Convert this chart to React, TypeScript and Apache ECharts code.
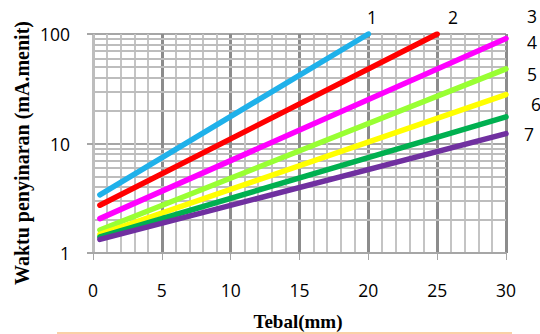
import React, { useEffect, useRef } from "react";
import * as echarts from "echarts";

const lineNames = ["1", "2", "3", "4", "5", "6", "7"];
const lineColors = ["#1fb1ea", "#ff0000", "#ff00ff", "#99ff33", "#ffff00", "#00b050", "#7030a0"];
const line1 = [[0.5, 3.4], [20, 100]];
const line2 = [[0.5, 2.73], [25, 100]];
const line3 = [[0.5, 2.06], [30, 91]];
const line4 = [[0.5, 1.62], [30, 48]];
const line5 = [[0.5, 1.48], [30, 28]];
const line6 = [[0.5, 1.4], [30, 17.5]];
const line7 = [[0.5, 1.33], [30, 12.3]];
const lineData = [line1, line2, line3, line4, line5, line6, line7];
const minorGridY = [2, 3, 4, 5, 6, 7, 8, 9, 20, 30, 40, 50, 60, 70, 80, 90];
const xTitle = "Tebal(mm)";
const yTitle = "Waktu penyinaran (mA.menit)";
const labelPos = [
  [372, 17], [453, 17], [532, 16], [532, 42], [532, 74], [536, 104], [529, 134],
];

export default function App() {
  const ref = useRef<HTMLDivElement>(null);
  useEffect(() => {
    const chart = echarts.init(ref.current!, null, { renderer: "svg" });
    const sans = "'Open Sans', sans-serif";
    const serif = "'Liberation Serif', 'Times New Roman', serif";
    chart.setOption({
      animation: false,
      grid: { left: 93, right: 34, top: 34, bottom: 81 },
      xAxis: {
        type: "value",
        min: 0,
        max: 30,
        interval: 5,
        axisLine: { show: true, lineStyle: { color: "#a6a6a6", width: 2 } },
        axisTick: { show: true, length: 7, lineStyle: { color: "#a6a6a6", width: 1 } },
        axisLabel: { margin: 28, fontSize: 17.5, color: "#000", fontFamily: sans },
        splitLine: {
          show: true,
          lineStyle: {
            color: ["#bdbdbd", "#8c8c8c", "#8c8c8c", "#8c8c8c", "#8c8c8c", "#8c8c8c", "#8c8c8c"],
            width: 3,
          },
        },
        minorTick: { show: false, splitNumber: 5 },
        minorSplitLine: { show: true, lineStyle: { color: "#c4c4c4", width: 2 } },
      },
      yAxis: {
        type: "log",
        logBase: 10,
        min: 1,
        max: 100,
        axisLine: { show: false },
        axisTick: { show: true, length: 6, lineStyle: { color: "#a6a6a6", width: 2 } },
        axisLabel: { margin: 23, fontSize: 17.5, color: "#000", fontFamily: sans },
        splitLine: { show: true, lineStyle: { color: "#a6a6a6", width: 2 } },
      },
      series: [
        {
          type: "line",
          data: [[0, 1]],
          symbol: "none",
          lineStyle: { opacity: 0 },
          silent: true,
          z: 0,
          markLine: {
            silent: true,
            z: 0,
            symbol: ["none", "none"],
            label: { show: false },
            lineStyle: { color: "#bdbdbd", width: 2, type: "solid" },
            data: minorGridY.map((v) => ({ yAxis: v })),
          },
        },
        ...lineData.map((d, i) => ({
          type: "line",
          name: lineNames[i],
          data: d,
          symbol: "none",
          z: 2 + i,
          lineStyle: { color: lineColors[i], width: 5.5, cap: "round" },
        })),
      ],
      graphic: [
        ...labelPos.map((p, i) => ({
          type: "text",
          x: p[0],
          y: p[1],
          style: {
            text: lineNames[i],
            fontSize: 17.5,
            fontFamily: sans,
            fill: "#000",
            align: "center",
            verticalAlign: "middle",
          },
        })),
        {
          type: "text",
          x: 298,
          y: 321,
          style: {
            text: xTitle,
            fontSize: 19,
            fontWeight: "bold",
            fontFamily: serif,
            fill: "#000",
            align: "center",
            verticalAlign: "middle",
          },
        },
        {
          type: "text",
          x: 22,
          y: 153,
          rotation: Math.PI / 2,
          style: {
            text: yTitle,
            fontSize: 20,
            fontWeight: "bold",
            fontFamily: serif,
            fill: "#000",
            align: "center",
            verticalAlign: "middle",
          },
        },
        {
          type: "line",
          shape: { x1: 57, y1: 333, x2: 512, y2: 333 },
          style: { stroke: "#f8c08a", lineWidth: 1.5 },
        },
      ],
    });
    return () => chart.dispose();
  }, []);
  return <div ref={ref} style={{ width: 540, height: 334, position: "absolute", left: 0, top: 0 }} />;
}
